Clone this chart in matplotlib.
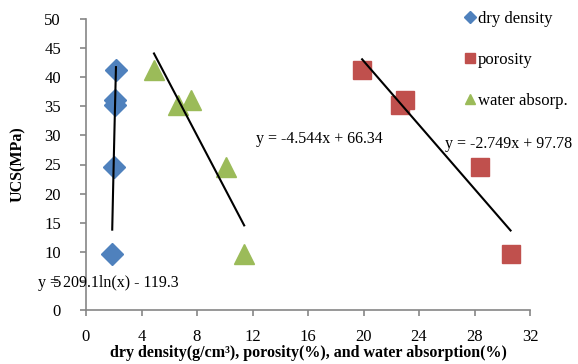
import matplotlib
matplotlib.use("Agg")
import matplotlib.pyplot as plt
import numpy as np

# UCS values (MPa), same samples for every property
ucs = [41.2, 36.0, 35.2, 24.5, 9.6]

dry_density = [2.16, 2.08, 2.10, 2.01, 1.89]
porosity = [19.9, 23.0, 22.6, 28.4, 30.6]
water_absorp = [4.9, 7.6, 6.6, 10.1, 11.4]

# trendline coefficients as printed on the chart
log_fit = (209.1, -119.3)
por_fit = (-2.749, 97.78)
wat_fit = (-4.544, 66.34)

plt.rcParams["font.family"] = ["Liberation Serif", "DejaVu Serif"]
plt.rcParams["font.size"] = 12

fig = plt.figure(figsize=(5.78, 3.64), dpi=100)
ax = fig.add_axes([86 / 578, 54 / 364, 444 / 578, 291 / 364])

blue = "#4F81BD"
red = "#C0504D"
green = "#9BBB59"

ax.plot(dry_density, ucs, "D", color=blue, ms=11, mec=blue, label="dry density", clip_on=False)
ax.plot(porosity, ucs, "s", color=red, ms=13, mec=red, label="porosity", clip_on=False)
ax.plot(water_absorp, ucs, "^", color=green, ms=14, mec=green, label="water absorp.", clip_on=False)

# trendlines over the x range of each series
xd = np.linspace(min(dry_density), max(dry_density), 50)
ax.plot(xd, log_fit[0] * np.log(xd) + log_fit[1], color="black", lw=1.5)
xp = np.array([min(porosity), max(porosity)])
ax.plot(xp, por_fit[0] * xp + por_fit[1], color="black", lw=1.5)
xw = np.array([min(water_absorp), max(water_absorp)])
ax.plot(xw, wat_fit[0] * xw + wat_fit[1], color="black", lw=1.5)

eq_size = 11.5
ax.text(-3.45, 4.6, "y = 209.1ln(x) - 119.3", va="center", ha="left", clip_on=False, fontsize=eq_size)
ax.text(12.25, 29.3, "y = -4.544x + 66.34", va="center", ha="left", fontsize=eq_size)
ax.text(25.9, 28.5, "y = -2.749x + 97.78", va="center", ha="left", clip_on=False, fontsize=eq_size)

ax.set_xlim(0, 32)
ax.set_ylim(0, 50)
ax.set_xticks(np.arange(0, 33, 4))
ax.set_yticks(np.arange(0, 51, 5))

for s in ["top", "right"]:
    ax.spines[s].set_visible(False)
for s in ["left", "bottom"]:
    ax.spines[s].set_color("#868686")
    ax.spines[s].set_linewidth(1.2)
ax.tick_params(axis="both", direction="out", length=4, width=1.2, color="#868686", labelsize=12)
ax.tick_params(axis="x", pad=10)
ax.tick_params(axis="y", pad=14)

ax.set_xlabel("dry density(g/cm³), porosity(%), and water absorption(%)",
              fontweight="bold", fontsize=11.5, labelpad=0)
ax.set_ylabel("UCS(MPa)", fontweight="bold", fontsize=11.5, labelpad=13)

fig.legend(loc="upper left", bbox_to_anchor=(458 / 578, 1 - 4 / 364), frameon=False,
           handlelength=0.6, handletextpad=0.2, labelspacing=1.5, markerscale=0.55,
           borderaxespad=0, fontsize=12)

fig.savefig("out.png", dpi=100)
